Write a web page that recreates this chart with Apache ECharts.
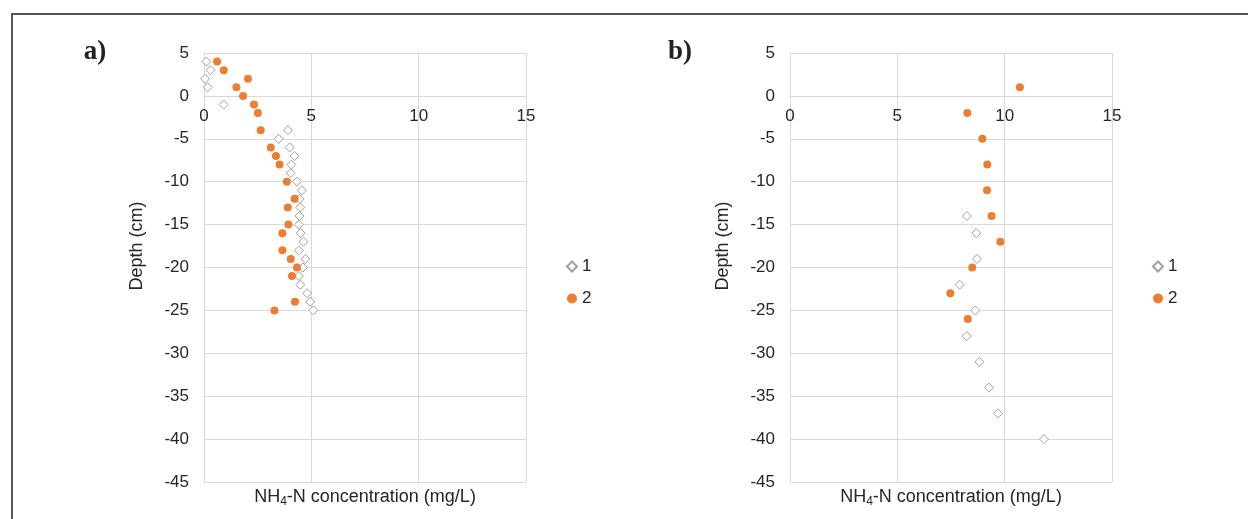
<!DOCTYPE html>
<html>
<head>
<meta charset="utf-8">
<script src="https://cdn.jsdelivr.net/npm/echarts@6/dist/echarts.min.js"></script>
<style>
html,body{margin:0;padding:0;background:#fff;}
#c{width:1248px;height:519px;}
</style>
</head>
<body>
<div id="c"></div>
<script>
// ---- data ----
const xTicks = [0, 5, 10, 15];
const yTicks = [5, 0, -5, -10, -15, -20, -25, -30, -35, -40, -45];
const seriesNames = ['1', '2'];

// panel a)
const aDepth1 = [4, 3, 2, 1, -1, -4, -5, -6, -7, -8, -9, -10, -11, -12, -13, -14, -15, -16, -17, -18, -19, -20, -21, -22, -23, -24, -25];
const aConc1  = [0.11, 0.30, 0.05, 0.17, 0.92, 3.91, 3.48, 3.99, 4.22, 4.07, 4.04, 4.33, 4.56, 4.45, 4.49, 4.45, 4.42, 4.50, 4.63, 4.42, 4.72, 4.61, 4.42, 4.49, 4.80, 4.95, 5.09];
const aDepth2 = [4, 3, 2, 1, 0, -1, -2, -4, -6, -7, -8, -10, -12, -13, -15, -16, -18, -19, -20, -21, -24, -25];
const aConc2  = [0.61, 0.92, 2.05, 1.51, 1.82, 2.33, 2.51, 2.64, 3.11, 3.35, 3.52, 3.86, 4.22, 3.90, 3.93, 3.65, 3.65, 4.04, 4.33, 4.10, 4.24, 3.28];

// panel b)
const bDepth1 = [-14, -16, -19, -22, -25, -28, -31, -34, -37, -40];
const bConc1  = [8.24, 8.68, 8.71, 7.90, 8.63, 8.23, 8.82, 9.27, 9.69, 11.83];
const bDepth2 = [1, -2, -5, -8, -11, -14, -17, -20, -23, -26];
const bConc2  = [10.71, 8.26, 8.96, 9.19, 9.18, 9.39, 9.80, 8.49, 7.47, 8.28];

const panelLabels = ['a)', 'b)'];
const xTitle = 'NH{sub|4}-N concentration (mg/L)';
const yTitle = 'Depth (cm)';

// ---- build ----
function pairs(xs, ys) { return xs.map((x, i) => [x, ys[i]]); }

const FONT = '"Liberation Sans", Arial, sans-serif';
const GRID = '#d9d9d9';
const TXT = '#262626';
const ORANGE = '#ED7D31';
const DIA = '#a0a0a0';

const GRID_H = 429;
const grids = [
  { left: 204, top: 53, width: 322, height: GRID_H },
  { left: 790, top: 53, width: 322, height: GRID_H }
];

const yMin = yTicks[yTicks.length - 1];
const yMax = yTicks[0];
// move the value axis line (and its labels) from the bottom of the plot up to depth 0
const zeroOffset = -GRID_H * (0 - yMin) / (yMax - yMin);

function xAxisFor(i) {
  return {
    gridIndex: i, type: 'value', position: 'bottom', offset: zeroOffset,
    min: xTicks[0], max: xTicks[xTicks.length - 1], interval: xTicks[1] - xTicks[0],
    axisLine: { show: true, onZero: false, lineStyle: { color: GRID, width: 1 } },
    axisTick: { show: false },
    axisLabel: { color: TXT, fontSize: 17, fontFamily: FONT, margin: 12 },
    splitLine: { show: true, lineStyle: { color: GRID, width: 1 } }
  };
}
function yAxisFor(i) {
  return {
    gridIndex: i, type: 'value',
    min: yMin, max: yMax, interval: yTicks[0] - yTicks[1],
    axisLine: { show: true, onZero: false, lineStyle: { color: GRID, width: 1 } },
    axisTick: { show: false },
    axisLabel: { color: TXT, fontSize: 17, fontFamily: FONT, margin: 15 },
    splitLine: { show: true, lineStyle: { color: GRID, width: 1 } }
  };
}

const diamondStyle = { color: '#ffffff', borderColor: DIA, borderWidth: 1, opacity: 1 };
const dotStyle = { color: ORANGE, opacity: 1 };

const series = [
  { name: seriesNames[0], type: 'scatter', xAxisIndex: 0, yAxisIndex: 0, symbol: 'diamond', symbolSize: 9, itemStyle: diamondStyle, data: pairs(aConc1, aDepth1), z: 3 },
  { name: seriesNames[1], type: 'scatter', xAxisIndex: 0, yAxisIndex: 0, symbol: 'circle', symbolSize: 8, itemStyle: dotStyle, data: pairs(aConc2, aDepth2), z: 4 },
  { name: seriesNames[0], type: 'scatter', xAxisIndex: 1, yAxisIndex: 1, symbol: 'diamond', symbolSize: 9, itemStyle: diamondStyle, data: pairs(bConc1, bDepth1), z: 3 },
  { name: seriesNames[1], type: 'scatter', xAxisIndex: 1, yAxisIndex: 1, symbol: 'circle', symbolSize: 8, itemStyle: dotStyle, data: pairs(bConc2, bDepth2), z: 4 }
];

function legendAt(left) {
  return {
    data: seriesNames.map(n => ({ name: n })),
    orient: 'vertical', left: left, top: 253,
    itemWidth: 10, itemHeight: 10, itemGap: 15,
    textStyle: { color: TXT, fontSize: 17, fontFamily: FONT },
    selectedMode: false
  };
}

const titleRich = {
  sub: { fontSize: 12, fontFamily: FONT, color: TXT, verticalAlign: 'bottom', lineHeight: 10 }
};

function xTitleAt(cx) {
  return {
    type: 'text', x: cx, y: 497,
    style: {
      text: xTitle, fill: TXT, fontSize: 18, fontFamily: FONT, lineHeight: 22,
      align: 'center', verticalAlign: 'middle', rich: titleRich
    }
  };
}
function yTitleAt(cx) {
  return {
    type: 'text', x: cx, y: 246, rotation: Math.PI / 2,
    style: { text: yTitle, fill: TXT, fontSize: 18, fontFamily: FONT, align: 'center', verticalAlign: 'middle' }
  };
}
function panelLabel(txt, cx) {
  return {
    type: 'text', x: cx, y: 52,
    style: { text: txt, fill: '#222', fontSize: 27, fontWeight: 'bold', fontFamily: '"Liberation Serif", "Times New Roman", serif', align: 'center', verticalAlign: 'middle' }
  };
}

const option = {
  backgroundColor: '#ffffff',
  animation: false,
  grid: grids,
  xAxis: [xAxisFor(0), xAxisFor(1)],
  yAxis: [yAxisFor(0), yAxisFor(1)],
  legend: [legendAt(561), legendAt(1147)],
  series: series,
  graphic: [
    { type: 'polyline', shape: { points: [[12, 519], [12, 14], [1248, 14]] }, style: { stroke: '#555', lineWidth: 2, fill: null } },
    panelLabel(panelLabels[0], 95),
    panelLabel(panelLabels[1], 680),
    xTitleAt(365), xTitleAt(951),
    yTitleAt(137), yTitleAt(723)
  ]
};

const chart = echarts.init(document.getElementById('c'), null, { renderer: 'canvas' });
chart.setOption(option);
</script>
</body>
</html>
